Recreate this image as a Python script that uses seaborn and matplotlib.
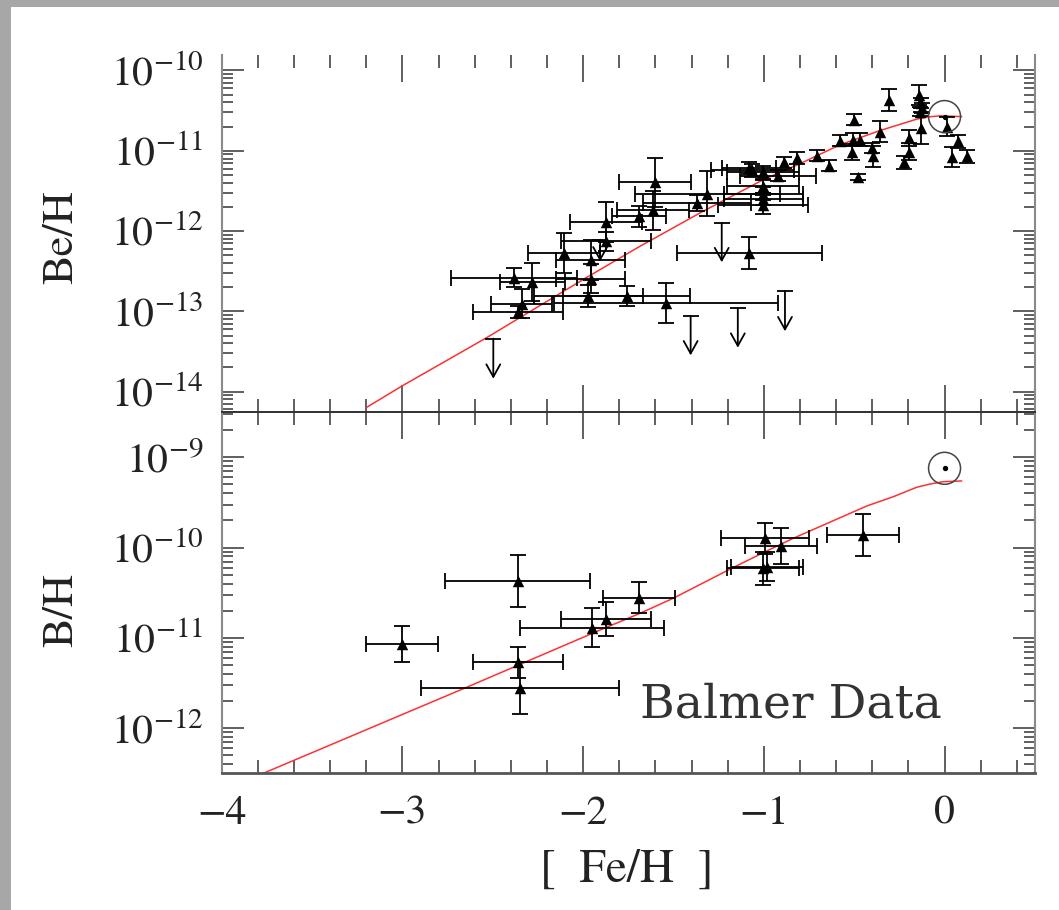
import numpy as np
import matplotlib
matplotlib.use("Agg")
import matplotlib.pyplot as plt
import matplotlib.ticker as mticker
from matplotlib.patches import Rectangle
import seaborn as sns

# ---- Beryllium: [Fe/H], log(Be/H), [Fe/H] error, log error ----
be_feh = [-0.307, -0.139, -0.130, -0.126, -0.136, -0.132, -0.196, -0.196, -0.224,
          -0.357, -0.499, -0.514, -0.505, -0.468, -0.403, -0.394, -0.480, -0.578,
          -0.638, -0.704, -0.818, -0.888, 0.016, 0.076, 0.043, 0.126,
          -1.081, -1.063, -1.003, -0.920, -1.003, -1.003, -1.003, -1.003,
          -1.313, -1.371, -1.602, -1.612, -1.691, -1.875, -1.875, -2.104,
          -1.958, -1.958, -2.382, -2.281, -2.340, -2.359, -1.971, -1.759,
          -1.541, -1.080]
be_log = [-10.366, -10.304, -10.404, -10.466, -10.512, -10.718, -10.842, -11.009, -11.145,
          -10.760, -10.615, -11.021, -10.863, -10.863, -10.966, -11.071, -11.327, -10.872,
          -11.186, -11.062, -11.091, -11.145, -10.698, -10.884, -11.078, -11.071,
          -11.215, -11.245, -11.270, -11.310, -11.443, -11.534, -11.600, -11.671,
          -11.534, -11.650, -11.394, -11.742, -11.816, -11.891, -12.127, -12.271,
          -12.363, -12.594, -12.581, -12.636, -12.904, -13.009, -12.810, -12.810,
          -12.901, -12.271]
be_xerr = [0, 0, 0, 0, 0, 0, 0, 0, 0,
           0, 0, 0, 0, 0, 0, 0, 0, 0,
           0, 0, 0, 0, 0, 0, 0, 0,
           0.15, 0.23, 0.20, 0.21, 0.20, 0.22, 0.22, 0.25,
           0.40, 0.30, 0.20, 0.20, 0.15, 0.20, 0.25, 0.20,
           0.19, 0.19, 0.35, 0.18, 0.17, 0.25, 0.30, 0.35,
           0.62, 0.40]
be_dlog = [0.14, 0.12, 0.06, 0.06, 0.06, 0.20, 0.10, 0.10, 0.08,
           0.13, 0.07, 0.10, 0.08, 0.08, 0.06, 0.13, 0.04, 0.07,
           0.07, 0.07, 0.07, 0.07, 0.12, 0.08, 0.12, 0.08,
           0.08, 0.08, 0.08, 0.07, 0.08, 0.08, 0.08, 0.12,
           0.28, 0.10, 0.31, 0.24, 0.13, 0.25, 0.12, 0.25,
           0.25, 0.18, 0.12, 0.24, 0.18, 0.08, 0.14, 0.12,
           0.25, 0.20]

# Beryllium upper limits: [Fe/H], log(Be/H) limit, arrow length (dex)
be_lim_feh = [-2.497, -1.405, -1.144, -0.883, -1.233, -1.906]
be_lim_log = [-13.339, -13.058, -12.963, -12.748, -11.898, -12.108]
be_lim_len = [0.50, 0.49, 0.49, 0.50, 0.49, 0.27]

# ---- Boron (Balmer data) ----
b_feh = [-3.001, -2.362, -2.362, -2.349, -1.952, -1.872, -1.692,
         -0.993, -0.905, -1.003, -0.984, -0.453]
b_log = [-11.071, -10.370, -11.270, -11.558, -10.886, -10.794, -10.555,
         -9.897, -9.979, -10.229, -10.210, -9.860]
b_xerr = [0.20, 0.40, 0.25, 0.55, 0.40, 0.25, 0.20,
          0.245, 0.20, 0.20, 0.20, 0.20]
b_dlog = [0.20, 0.29, 0.17, 0.29, 0.22, 0.19, 0.17,
          0.17, 0.20, 0.18, 0.16, 0.235]

# ---- Model evolution curves ----
be_model_feh = [-3.198, -3.001, -2.533, -1.999, -1.685, -1.353, -1.003,
                -0.800, -0.578, -0.357, -0.154, -0.090, -0.025, 0.095]
be_model_log = [-14.196, -13.928, -13.327, -12.602, -12.189, -11.774, -11.360,
                -11.161, -10.925, -10.748, -10.606, -10.578, -10.565, -10.574]
b_model_feh = [-3.770, -2.644, -1.906, -1.685, -1.501, -1.196, -1.003,
               -0.837, -0.430, -0.283, -0.154, -0.080, -0.007, 0.095]
b_model_log = [-12.500, -11.547, -10.913, -10.728, -10.561, -10.248, -10.056,
               -9.897, -9.539, -9.436, -9.332, -9.296, -9.270, -9.262]

# Solar values
sun_feh = 0.0
sun_be_log = -10.574
sun_b_log = -9.122

# Axis ranges (log10) and labelled decades
be_ylim = (-14.25, -9.807)
b_ylim = (-12.5, -8.495)
be_decades = [-14, -13, -12, -11, -10]
b_decades = [-12, -11, -10, -9]
feh_ticks = [-4, -3, -2, -1, 0]

sns.set_style("ticks")
plt.rcParams["font.family"] = ["STIXGeneral", "DejaVu Serif"]
plt.rcParams["mathtext.fontset"] = "stix"
plt.rcParams["axes.unicode_minus"] = True

W, H = 1059, 910
fig = plt.figure(figsize=(W / 100, H / 100), dpi=100, facecolor="#a7a7a7")
fig.add_artist(Rectangle((11 / W, 0), 1, 1 - 7 / H, transform=fig.transFigure,
                         facecolor="white", edgecolor="none", zorder=0))

left = 221.7 / W
width = (1034.9 - 221.7) / W
ax_top = fig.add_axes([left, 1 - 411.7 / H, width, (411.7 - 55) / H])
ax_bot = fig.add_axes([left, 1 - 773.3 / H, width, (773.3 - 411.7) / H], sharex=ax_top)


def draw_points(ax, feh, logv, xerr, dlog):
    feh = np.asarray(feh, float)
    logv = np.asarray(logv, float)
    xerr = np.asarray(xerr, float)
    dlog = np.asarray(dlog, float)
    y = 10 ** logv
    yerr = [y - 10 ** (logv - dlog), 10 ** (logv + dlog) - y]
    ax.errorbar(feh, y, yerr=yerr, fmt="none", ecolor="black", elinewidth=1.3,
                capsize=5.5, capthick=1.3, zorder=2)
    m = xerr > 0
    ax.errorbar(feh[m], y[m], xerr=xerr[m], fmt="none", ecolor="black",
                elinewidth=1.3, capsize=5.5, capthick=1.3, zorder=2)
    sns.scatterplot(x=feh, y=y, marker="^", color="black", s=68, linewidth=0,
                    ax=ax, zorder=3, legend=False)


def draw_limits(ax, feh, logv, length):
    for x, lv, L in zip(feh, logv, length):
        ax.annotate("", xy=(x, 10 ** (lv - L)), xytext=(x, 10 ** lv),
                    arrowprops=dict(arrowstyle="->,head_length=0.45,head_width=0.25",
                                    color="black", lw=1.3, mutation_scale=20,
                                    shrinkA=0, shrinkB=0), zorder=2)
    ax.plot(feh, 10 ** np.asarray(logv), ls="none", marker="_", ms=11, mew=1.3,
            color="black", zorder=2)


def draw_sun(ax, x, lv):
    ax.scatter([x], [10 ** lv], s=530, facecolors="none", edgecolors="#444444",
               linewidths=1.1, zorder=4)
    ax.scatter([x], [10 ** lv], s=8, color="black", zorder=4)


def log_ticks(ax, lims, decades):
    lo, hi = lims
    ax.yaxis.set_major_locator(mticker.FixedLocator([10.0 ** d for d in decades]))
    minors = [k * 10.0 ** n for n in range(int(np.floor(lo)), int(np.ceil(hi)) + 1)
              for k in range(2, 10) if lo <= np.log10(k * 10.0 ** n) <= hi]
    ax.yaxis.set_minor_locator(mticker.FixedLocator(minors))
    ax.yaxis.set_major_formatter(mticker.LogFormatterMathtext())
    ax.yaxis.set_minor_formatter(mticker.NullFormatter())


for ax in (ax_top, ax_bot):
    ax.set_yscale("log")
    ax.set_facecolor("white")

ax_top.set_ylim(10 ** be_ylim[0], 10 ** be_ylim[1])
ax_bot.set_ylim(10 ** b_ylim[0], 10 ** b_ylim[1])

sns.lineplot(x=be_model_feh, y=10 ** np.array(be_model_log), ax=ax_top,
             color="#ff3030", lw=1.1, sort=False, estimator=None, legend=False, zorder=1)
sns.lineplot(x=b_model_feh, y=10 ** np.array(b_model_log), ax=ax_bot,
             color="#ff3030", lw=1.1, sort=False, estimator=None, legend=False, zorder=1)

draw_points(ax_top, be_feh, be_log, be_xerr, be_dlog)
draw_limits(ax_top, be_lim_feh, be_lim_log, be_lim_len)
draw_sun(ax_top, sun_feh, sun_be_log)

draw_points(ax_bot, b_feh, b_log, b_xerr, b_dlog)
draw_sun(ax_bot, sun_feh, sun_b_log)

log_ticks(ax_top, be_ylim, be_decades)
log_ticks(ax_bot, b_ylim, b_decades)

for ax in (ax_top, ax_bot):
    ax.set_xlim(-4, 0.5)
    ax.set_xlabel("")
    ax.set_ylabel("")
    ax.xaxis.set_major_locator(mticker.FixedLocator(feh_ticks))
    ax.xaxis.set_minor_locator(mticker.MultipleLocator(0.2))
    ax.tick_params(which="both", direction="in", top=True, right=True,
                   color="#444444", width=1.2, labelcolor="#222222")
    ax.tick_params(axis="x", which="major", length=19.5)
    ax.tick_params(axis="x", which="minor", length=9.5)
    ax.tick_params(axis="y", which="major", length=16, labelsize=30, pad=13)
    ax.tick_params(axis="y", which="minor", length=8)
    for side in ("left", "right"):
        ax.spines[side].set_color("#8a8a8a")
        ax.spines[side].set_linewidth(1.5)

ax_top.tick_params(axis="x", labelbottom=False)
ax_bot.tick_params(axis="x", labelsize=30, pad=16)
ax_top.spines["top"].set_visible(False)
ax_top.spines["bottom"].set_color("#333333")
ax_top.spines["bottom"].set_linewidth(1.4)
ax_bot.spines["top"].set_color("#333333")
ax_bot.spines["top"].set_linewidth(1.4)
ax_bot.spines["bottom"].set_color("#555555")
ax_bot.spines["bottom"].set_linewidth(2)

fig.text(62 / W, 1 - 237 / H, "Be/H", rotation=90, ha="center", va="center",
         fontsize=32, color="#222222")
fig.text(62 / W, 1 - 610 / H, "B/H", rotation=90, ha="center", va="center",
         fontsize=32, color="#222222")
fig.text(627 / W, 1 - 870 / H, "[  Fe/H  ]", ha="center", va="center",
         fontsize=34, color="#222222")
fig.text(790.5 / W, 1 - 718 / H, "Balmer Data", ha="center", va="baseline",
         fontsize=34, family="DejaVu Serif", color="#333333")

fig.savefig("out.png", dpi=100, facecolor=fig.get_facecolor())
